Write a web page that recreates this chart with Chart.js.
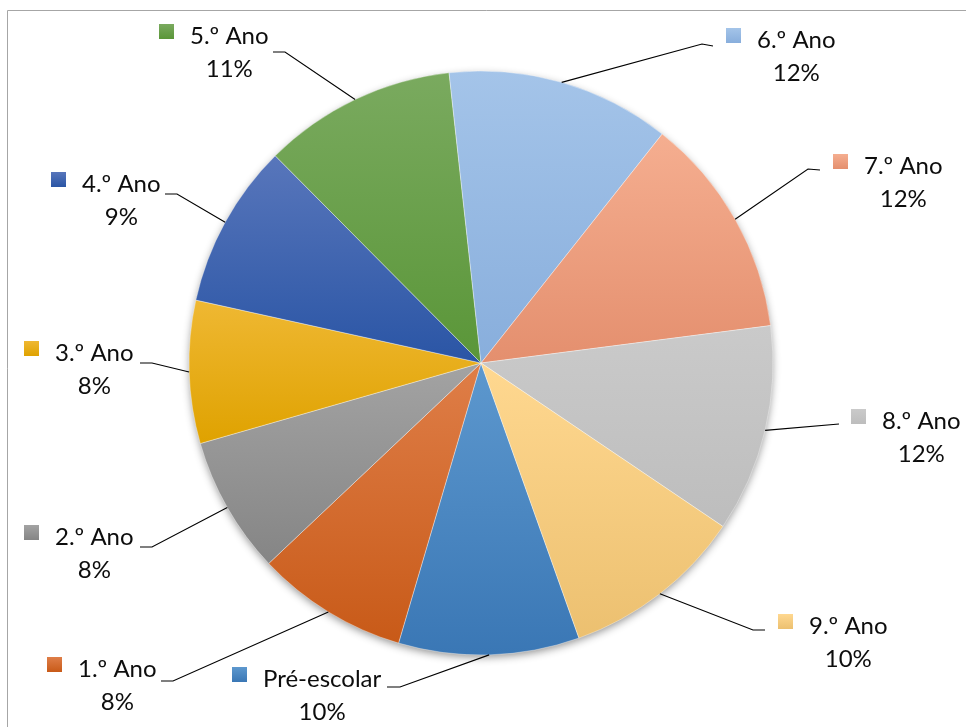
<!DOCTYPE html>
<html>
<head>
<meta charset="utf-8">
<script src="https://cdn.jsdelivr.net/npm/chart.js@4.4.1/dist/chart.umd.min.js"></script>
<style>
  html, body { margin: 0; padding: 0; background: #fff; }
  #wrap { width: 966px; height: 727px; position: relative; }
</style>
</head>
<body>
<div id="wrap"><canvas id="pie"></canvas></div>
<script>
// slice data, clockwise from Pré-escolar
const labels = ['Pré-escolar', '1.º Ano', '2.º Ano', '3.º Ano', '4.º Ano',
                '5.º Ano', '6.º Ano', '7.º Ano', '8.º Ano', '9.º Ano'];
const shares = [10.0, 8.4, 7.6, 7.9, 9.1, 10.7, 12.4, 12.3, 11.5, 10.1];

// gradient fill, light at top of slice, darker at bottom
const topColors    = ['#5d98ce', '#df7e48', '#a3a3a3', '#efb833', '#5876bb',
                      '#7aaa5f', '#a4c4e9', '#f5ae90', '#cacaca', '#ffd890'];
const bottomColors = ['#3a77b5', '#c85a18', '#858585', '#dfa200', '#2a55a5',
                      '#5a9638', '#88aedc', '#e48f6e', '#bdbdbd', '#ecc070'];

// label placement: key square (x, y), elbow of leader, end of leader
const labelLayout = [
  { x: 232, y: 667, kx: 400, ky: 687, ex: 387, ey: 687 },
  { x: 47,  y: 657, kx: 173, ky: 681, ex: 161, ey: 681 },
  { x: 24,  y: 525, kx: 152, ky: 547, ex: 140, ey: 547 },
  { x: 24,  y: 341, kx: 152, ky: 363, ex: 140, ey: 363 },
  { x: 51,  y: 172, kx: 177, ky: 194, ex: 165, ey: 194 },
  { x: 159, y: 24,  kx: 285, ky: 52,  ex: 273, ey: 52 },
  { x: 726, y: 28,  kx: 702, ky: 44,  ex: 713, ey: 46 },
  { x: 833, y: 154, kx: 808, ky: 169, ex: 820, ey: 170 },
  { x: 851, y: 409, kx: 839, ky: 424, ex: 839, ey: 424 },
  { x: 778, y: 614, kx: 753, ky: 630, ex: 765, ey: 630 },
];

const FONT = "24px Lato, 'Noto Sans', sans-serif";

function arcBox(a) {
  const pts = [[a.x, a.y]];
  const add = t => pts.push([a.x + a.outerRadius * Math.cos(t), a.y + a.outerRadius * Math.sin(t)]);
  add(a.startAngle); add(a.endAngle);
  for (let k = -4; k <= 8; k++) {
    const t = k * Math.PI / 2;
    if (t > a.startAngle && t < a.endAngle) add(t);
  }
  const ys = pts.map(p => p[1]);
  return { top: Math.min(...ys), bottom: Math.max(...ys) };
}

const framePlugin = {
  id: 'frame',
  beforeDraw(chart) {
    const ctx = chart.ctx;
    ctx.save();
    ctx.strokeStyle = '#a6a6a6';
    ctx.lineWidth = 1;
    ctx.beginPath();
    ctx.moveTo(7.5, chart.height);
    ctx.lineTo(7.5, 10.5);
    ctx.lineTo(chart.width, 10.5);
    ctx.stroke();
    ctx.restore();
  },
};

const fillPlugin = {
  id: 'sliceFill',
  beforeDatasetsDraw(chart) {
    const ctx = chart.ctx;
    const arcs = chart.getDatasetMeta(0).data;
    if (!arcs.length) return;
    const a0 = arcs[0];
    // soft drop shadow under the whole pie
    ctx.save();
    ctx.shadowColor = 'rgba(0,0,0,0.45)';
    ctx.shadowBlur = 9;
    ctx.shadowOffsetY = 3;
    ctx.fillStyle = '#ffffff';
    ctx.beginPath();
    ctx.arc(a0.x, a0.y, a0.outerRadius - 1, 0, Math.PI * 2);
    ctx.fill();
    ctx.restore();

    arcs.forEach((a, i) => {
      const b = arcBox(a);
      const g = ctx.createLinearGradient(0, b.top, 0, b.bottom);
      g.addColorStop(0, topColors[i]);
      g.addColorStop(1, bottomColors[i]);
      a.options = Object.assign({}, a.options, { backgroundColor: g });
    });
  },
  afterDatasetsDraw(chart) {
    const ctx = chart.ctx;
    const arcs = chart.getDatasetMeta(0).data;
    ctx.save();
    ctx.font = FONT;
    arcs.forEach((a, i) => {
      const L = labelLayout[i];
      const mid = (a.startAngle + a.endAngle) / 2;
      const sx = a.x + a.outerRadius * Math.cos(mid);
      const sy = a.y + a.outerRadius * Math.sin(mid);

      // leader line
      ctx.strokeStyle = '#000';
      ctx.lineWidth = 1.1;
      ctx.beginPath();
      ctx.moveTo(sx, sy);
      ctx.lineTo(L.kx, L.ky);
      ctx.lineTo(L.ex, L.ey);
      ctx.stroke();

      // key square
      const g = ctx.createLinearGradient(0, L.y, 0, L.y + 15);
      g.addColorStop(0, topColors[i]);
      g.addColorStop(1, bottomColors[i]);
      ctx.fillStyle = g;
      ctx.fillRect(L.x, L.y, 15, 15);

      // text
      const tx = L.x + 31;
      const base = L.y + 20;
      ctx.fillStyle = '#0d0d0d';
      ctx.textBaseline = 'alphabetic';
      ctx.textAlign = 'left';
      ctx.fillText(labels[i], tx, base);
      const w = ctx.measureText(labels[i]).width;
      ctx.textAlign = 'center';
      ctx.fillText(Math.round(shares[i]) + '%', tx + w / 2, base + 33);
    });
    ctx.restore();
  },
};

new Chart(document.getElementById('pie'), {
  type: 'pie',
  data: {
    labels,
    datasets: [{
      data: shares,
      backgroundColor: topColors,
      borderColor: 'rgba(255,255,255,0.35)',
      borderWidth: 1,
    }],
  },
  options: {
    responsive: true,
    maintainAspectRatio: false,
    animation: false,
    events: [],
    rotation: 160.4,
    radius: 292,
    layout: { padding: { left: 189, right: 193, top: 71, bottom: 72 } },
    plugins: {
      legend: { display: false },
      tooltip: { enabled: false },
    },
  },
  plugins: [framePlugin, fillPlugin],
});
</script>
</body>
</html>
